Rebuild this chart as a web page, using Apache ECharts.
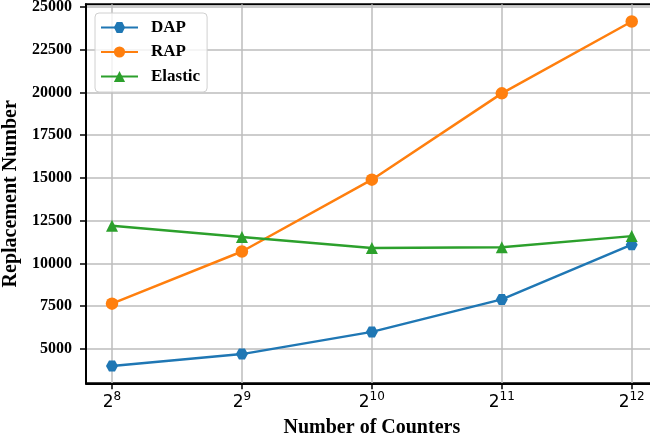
<!DOCTYPE html>
<html><head><meta charset="utf-8">
<script src="https://cdn.jsdelivr.net/npm/echarts@6/dist/echarts.min.js"></script>
<style>html,body{margin:0;padding:0;background:#fff}#c{width:650px;height:438px}</style>
</head><body><div id="c"></div>
<script>
const exponents = [8, 9, 10, 11, 12];
const dap = [4000, 4700, 6000, 7900, 11100];
const rap = [7650, 10700, 14900, 19950, 24150];
const elastic = [12200, 11550, 10900, 10950, 11600];
const yTicks = [5000, 7500, 10000, 12500, 15000, 17500, 20000, 22500, 25000];
const xTicks = [8, 9, 10, 11, 12];

const serif = '"Liberation Serif", "Times New Roman", serif';
const hexagon = 'path://M-1,0 L-0.5,-0.866 L0.5,-0.866 L1,0 L0.5,0.866 L-0.5,0.866 Z';

function pts(arr) { return exponents.map((e, i) => [e, arr[i]]); }

const chart = echarts.init(document.getElementById('c'), null, {renderer: 'canvas'});
chart.setOption({
  animation: false,
  backgroundColor: '#fff',
  grid: {left: 86, top: 4.3, width: 571.7, height: 379, containLabel: false, outerBoundsMode: 'none',
         show: true, borderColor: '#000', borderWidth: 2, backgroundColor: 'transparent'},
  xAxis: {
    type: 'value', min: 7.8, max: 12.2,
    name: 'Number of Counters', nameLocation: 'middle', nameGap: 34,
    nameTextStyle: {fontFamily: serif, fontWeight: 'bold', fontSize: 20, color: '#000'},
    axisLine: {show: true, lineStyle: {color: '#000', width: 2}},
    axisTick: {show: true, length: 6, lineStyle: {color: '#000', width: 1.5}, customValues: xTicks},
    axisLabel: {
      customValues: xTicks, margin: 8,
      formatter: v => '{b|2}{s|' + v + '}',
      rich: {
        b: {fontFamily: '"DejaVu Sans"', fontSize: 17, color: '#000', verticalAlign: 'bottom', lineHeight: 20},
        s: {fontFamily: '"DejaVu Sans"', fontSize: 12, color: '#000', verticalAlign: 'top', lineHeight: 20, padding: [0, 0, 10, 0]}
      }
    },
    splitLine: {show: true, lineStyle: {color: '#bdbdbd', width: 1.5}}
  },
  yAxis: {
    type: 'value', min: 2993, max: 25157,
    name: 'Replacement Number', nameLocation: 'middle', nameGap: 62,
    nameTextStyle: {fontFamily: serif, fontWeight: 'bold', fontSize: 20, color: '#000'},
    axisLine: {show: true, lineStyle: {color: '#000', width: 2}},
    axisTick: {show: true, length: 6, lineStyle: {color: '#000', width: 1.5}, customValues: yTicks},
    axisLabel: {customValues: yTicks, margin: 14, fontFamily: serif, fontWeight: 'bold', fontSize: 16, color: '#000',
                formatter: v => String(v)},
    splitLine: {show: true, lineStyle: {color: '#bdbdbd', width: 1.5}}
  },
  legend: {
    left: 95, top: 13, orient: 'vertical',
    backgroundColor: 'rgba(255,255,255,0.8)', borderColor: '#d0d0d0', borderWidth: 1, borderRadius: 4,
    padding: [6, 7, 7, 5], itemGap: 7.5, itemWidth: 37, itemHeight: 14,
    textStyle: {fontFamily: serif, fontWeight: 'bold', fontSize: 17, color: '#000', padding: [0, 0, 0, 8]},
    data: ['DAP', 'RAP', 'Elastic']
  },
  series: [
    {name: 'DAP', type: 'line', data: pts(dap), symbol: hexagon, symbolSize: [12, 11], color: '#1f77b4', lineStyle: {width: 2.5}, itemStyle: {color: '#1f77b4'}},
    {name: 'RAP', type: 'line', data: pts(rap), symbol: 'circle', symbolSize: 12.5, color: '#ff7f0e', lineStyle: {width: 2.5}, itemStyle: {color: '#ff7f0e'}},
    {name: 'Elastic', type: 'line', data: pts(elastic), symbol: 'triangle', symbolSize: [12, 12], color: '#2ca02c', lineStyle: {width: 2.5}, itemStyle: {color: '#2ca02c'}}
  ]
});
</script></body></html>
